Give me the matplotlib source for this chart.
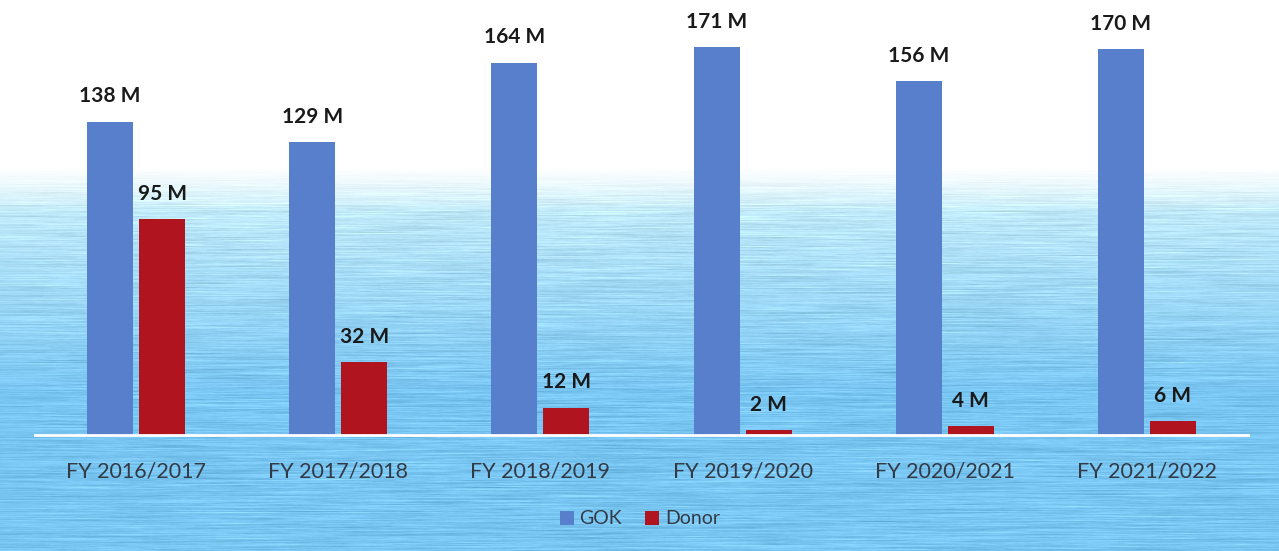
import numpy as np
import matplotlib
matplotlib.use("Agg")
import matplotlib.pyplot as plt

categories = ["FY 2016/2017", "FY 2017/2018", "FY 2018/2019",
              "FY 2019/2020", "FY 2020/2021", "FY 2021/2022"]
gok = [138, 129, 164, 171, 156, 170]
donor = [95, 32, 12, 2, 4, 6]
series_names = ["GOK", "Donor"]

W, H = 1279, 551
fig = plt.figure(figsize=(W / 100, H / 100), dpi=100)

# decorative background texture
rng = np.random.default_rng(3)
h, w = 551, 640
noise = rng.normal(0, 1, (h, w))
k = np.ones(31) / 31
noise = np.apply_along_axis(lambda r: np.convolve(r, k, mode="same"), 1, noise)
noise = noise / noise.std()
py = np.linspace(0, H, h)[:, None]
fade = np.clip((py - 168) / 45, 0, 1)
t = np.clip((py - 190) / 200, 0, 1)
top_c = np.array([200, 238, 251]) / 255.0
bot_c = np.array([122, 198, 242]) / 255.0
img = np.ones((h, w, 3))
for c in range(3):
    col = top_c[c] * (1 - t) + bot_c[c] * t + 0.03 * noise
    img[:, :, c] = 1 * (1 - fade) + col * fade
img = np.clip(img, 0, 1)
bg = fig.add_axes([0, 0, 1, 1], zorder=0)
bg.imshow(img, aspect="auto", extent=[0, 1, 0, 1], origin="upper", interpolation="bilinear")
bg.axis("off")

ax = fig.add_axes([35 / W, 116 / H, (1248 - 35) / W, 1 - 116 / H], zorder=1)
ax.patch.set_alpha(0)
x = np.arange(len(categories))
bw = 46 / 202
off = 26 / 202
b1 = ax.bar(x - off, gok, width=bw, color="#587fcb", label=series_names[0])
b2 = ax.bar(x + off, donor, width=bw, color="#b0141f", label=series_names[1])
for bars, vals in ((b1, gok), (b2, donor)):
    for r, v in zip(bars, vals):
        ax.annotate(f"{v} M", (r.get_x() + r.get_width() / 2, v), xytext=(0, 11),
                    textcoords="offset points", ha="center", va="bottom",
                    fontsize=15, fontweight="bold", color="#1a1a1a", family="Lato")

ax.set_xlim(-0.5, len(categories) - 0.5)
ax.set_ylim(0, 435 / 2.27)
for s in ["top", "right", "left"]:
    ax.spines[s].set_visible(False)
ax.spines["bottom"].set_color("white")
ax.spines["bottom"].set_linewidth(2)
ax.set_yticks([])
ax.set_xticks(x)
ax.set_xticklabels(categories, fontsize=15.5, color="#333a45", family="Lato")
ax.tick_params(axis="x", length=0, pad=19)

leg = fig.legend(handles=[b1, b2], labels=series_names, loc="center",
                 bbox_to_anchor=(640 / W, 1 - 519 / H), ncol=2, frameon=False,
                 prop={"family": "Lato", "size": 14}, handlelength=0.7,
                 handleheight=0.7, handletextpad=0.3, columnspacing=1.2)
for tx in leg.get_texts():
    tx.set_color("#333a45")

fig.savefig("out.png", dpi=100)
